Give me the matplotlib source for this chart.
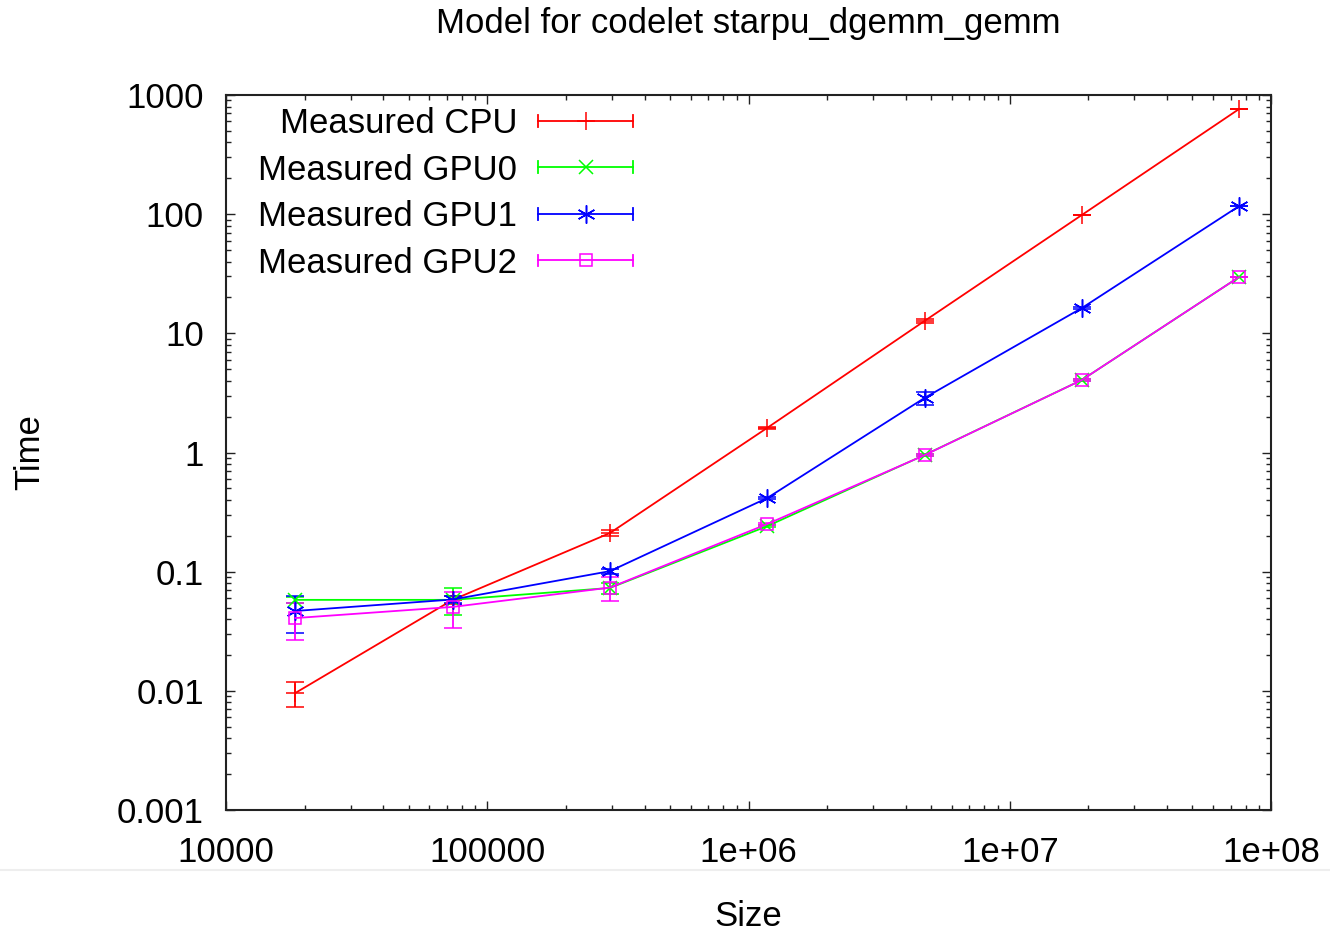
import matplotlib
matplotlib.use("Agg")
import matplotlib.pyplot as plt
from matplotlib.lines import Line2D
from matplotlib.legend_handler import HandlerBase
from matplotlib.ticker import LogLocator, NullFormatter, FixedLocator, FixedFormatter

# ---- data ----
sizes = [18432, 73728, 294912, 1179648, 4718592, 18874368, 75497472]

cpu = [0.0096, 0.058, 0.211, 1.61, 12.7, 98.4, 763]
cpu_err = [0.0023, 0.004, 0.012, 0.02, 0.6, 0.5, 3.0]

gpu0 = [0.058, 0.058, 0.073, 0.241, 0.953, 4.06, 29.7]
gpu0_err = [0.003, 0.015, 0.008, 0.005, 0.02, 0.05, 0.2]

gpu1 = [0.0468, 0.0584, 0.101, 0.415, 2.87, 16.3, 117]
gpu1_err = [0.016, 0.004, 0.005, 0.01, 0.35, 0.2, 1.0]

gpu2 = [0.0408, 0.0506, 0.0735, 0.251, 0.95, 4.06, 29.7]
gpu2_err = [0.014, 0.017, 0.017, 0.005, 0.02, 0.05, 0.2]

series_labels = ["Measured CPU", "Measured GPU0", "Measured GPU1", "Measured GPU2"]

xtick_vals = [1e4, 1e5, 1e6, 1e7, 1e8]
xtick_labels = ["10000", "100000", "1e+06", "1e+07", "1e+08"]
ytick_vals = [1e-3, 1e-2, 1e-1, 1, 10, 100, 1000]
ytick_labels = ["0.001", "0.01", "0.1", "1", "10", "100", "1000"]

title = "Model for codelet starpu_dgemm_gemm"
xlabel = "Size"
ylabel = "Time"

# ---- style ----
plt.rcParams['font.family'] = ['Liberation Sans', 'DejaVu Sans']
FS = 25

fig = plt.figure(figsize=(13.3, 9.33), dpi=100)
ax = fig.add_axes([226/1330, 1 - 810/933, (1271-226)/1330, (810-95)/933])

styles = [
    dict(color="#ff0000", marker="+", ms=13, mfc="none"),
    dict(color="#00ff00", marker="x", ms=10, mfc="none"),
    dict(color="#0000ff", marker=(6, 2, 0), ms=13, mfc="none"),
    dict(color="#ff00ff", marker="s", ms=8.5, mfc="none"),
]
datasets = [(cpu, cpu_err), (gpu0, gpu0_err), (gpu1, gpu1_err), (gpu2, gpu2_err)]

handles = []
for (vals, errs), st, lab in zip(datasets, styles, series_labels):
    c = ax.errorbar(sizes, vals, yerr=errs, color=st["color"], marker=st["marker"],
                    ms=st["ms"], mfc=st["mfc"], mec=st["color"], mew=1.1,
                    lw=1.3, elinewidth=1.3, capsize=6.5, capthick=1.3, label=lab)
    handles.append(c.lines[0])

ax.set_xscale("log")
ax.set_yscale("log")
ax.set_xlim(1e4, 1e8)
ax.set_ylim(1e-3, 1e3)

ax.xaxis.set_major_locator(FixedLocator(xtick_vals))
ax.xaxis.set_major_formatter(FixedFormatter(xtick_labels))
ax.yaxis.set_major_locator(FixedLocator(ytick_vals))
ax.yaxis.set_major_formatter(FixedFormatter(ytick_labels))
ax.xaxis.set_minor_locator(LogLocator(base=10, subs=range(2, 10), numticks=50))
ax.yaxis.set_minor_locator(LogLocator(base=10, subs=range(2, 10), numticks=50))
ax.xaxis.set_minor_formatter(NullFormatter())
ax.yaxis.set_minor_formatter(NullFormatter())

ax.tick_params(which="both", direction="in", top=True, right=True, labelsize=FS,
               color="#222222", width=1.0)
ax.tick_params(which="major", length=6.5)
ax.tick_params(which="minor", length=3.6)
ax.tick_params(axis="y", which="major", pad=16)
ax.tick_params(axis="x", which="major", pad=19)
for sp in ax.spines.values():
    sp.set_linewidth(1.5)
    sp.set_color("#222222")

ax.set_xlabel(xlabel, fontsize=FS, va="center")
ax.xaxis.set_label_coords(0.5, (810 - 917) / 715)
ax.set_ylabel(ylabel, fontsize=FS, va="center")
ax.yaxis.set_label_coords((30 - 226) / 1045, 0.5)

fig.text((226 + 1271) / 2 / 1330, 1 - 23 / 933, title, fontsize=FS,
         ha="center", va="center")

# light separator line across the figure
fig.add_artist(Line2D([0, 1], [1 - 870 / 933, 1 - 870 / 933], transform=fig.transFigure,
                      color="#eeeeee", lw=1.5))


class GnuErrHandler(HandlerBase):
    def create_artists(self, legend, orig_handle, xdescent, ydescent, width, height,
                       fontsize, trans):
        color = orig_handle.get_color()
        y = height / 2 - ydescent
        x0, x1 = -xdescent, width - xdescent
        cap = 0.17 * fontsize
        arts = [
            Line2D([x0, x1], [y, y], color=color, lw=1.3),
            Line2D([x0, x0], [y - cap, y + cap], color=color, lw=1.3),
            Line2D([x1, x1], [y - cap, y + cap], color=color, lw=1.3),
            Line2D([(x0 + x1) / 2], [y], color=color, ls="none",
                   marker=orig_handle.get_marker(), ms=orig_handle.get_markersize(),
                   mfc="none", mec=color, mew=1.1),
        ]
        for a in arts:
            a.set_transform(trans)
        return arts


leg = ax.legend(handles, series_labels, handler_map={Line2D: GnuErrHandler()},
                loc="upper left", bbox_to_anchor=((258 - 226) / 1045, (810 - 107) / 715),
                frameon=False, borderpad=0, borderaxespad=0, markerfirst=False,
                fontsize=FS, handlelength=2.75, handletextpad=0.6, labelspacing=0.39)

fig.savefig("out.png", dpi=100)
